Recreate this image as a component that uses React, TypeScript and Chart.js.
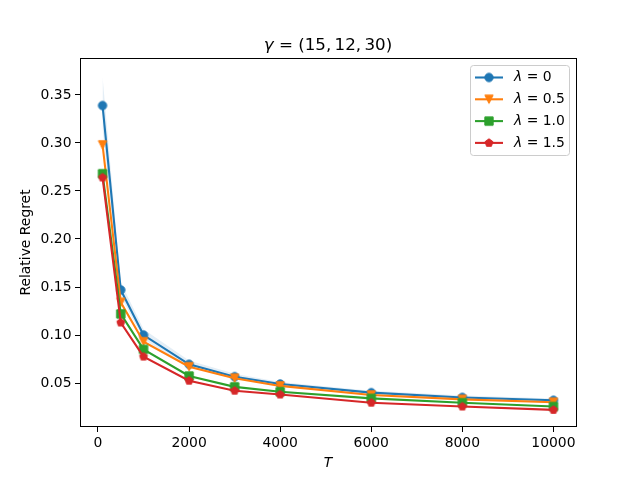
import { useEffect, useRef } from 'react';
import { Chart, registerables } from 'chart.js';

Chart.register(...registerables);

// values
const T = [100, 500, 1000, 2000, 3000, 4000, 6000, 8000, 10000];
const lambda0 = [0.339, 0.147, 0.100, 0.0695, 0.0566, 0.049, 0.040, 0.035, 0.032];
const lambda05 = [0.298, 0.134, 0.093, 0.067, 0.055, 0.047, 0.0375, 0.033, 0.030];
const lambda10 = [0.268, 0.122, 0.085, 0.0573, 0.046, 0.041, 0.034, 0.0295, 0.0255];
const lambda15 = [0.264, 0.113, 0.0775, 0.0524, 0.042, 0.038, 0.0295, 0.0255, 0.022];
const lambda0Spread = [0.03, 0.008, 0.006, 0.004, 0.003, 0.002, 0.002, 0.002, 0.002];
const lambdaLabels = ['0', '0.5', '1.0', '1.5'];
const xTicks = [0, 2000, 4000, 6000, 8000, 10000];
const yTicks = [0.05, 0.1, 0.15, 0.2, 0.25, 0.3, 0.35];

const colors = ['#1f77b4', '#ff7f0e', '#2ca02c', '#d62728'];
const shapes = ['circle', 'tri', 'square', 'pent'];
const FONT = '"DejaVu Sans", sans-serif';

function makeMarker(shape: string, color: string) {
  const c = document.createElement('canvas');
  c.width = 12;
  c.height = 12;
  const g = c.getContext('2d')!;
  const r = 4.17;
  g.fillStyle = color;
  g.strokeStyle = color;
  g.lineWidth = 1;
  g.beginPath();
  if (shape === 'circle') {
    g.arc(6, 6, r, 0, Math.PI * 2);
  } else if (shape === 'tri') {
    g.moveTo(6, 6 + r);
    g.lineTo(6 - r, 6 - r);
    g.lineTo(6 + r, 6 - r);
    g.closePath();
  } else if (shape === 'square') {
    g.rect(6 - r, 6 - r, 2 * r, 2 * r);
  } else {
    for (let i = 0; i < 5; i++) {
      const a = -Math.PI / 2 + (i * 2 * Math.PI) / 5;
      const px = 6 + r * Math.cos(a);
      const py = 6 + r * Math.sin(a);
      if (i === 0) g.moveTo(px, py);
      else g.lineTo(px, py);
    }
    g.closePath();
  }
  g.fill();
  g.stroke();
  return c;
}

function drawMath(ctx, parts, x, y, size, align) {
  const fonts = parts.map(([, it]) => `${it ? 'italic ' : ''}${size}px ${FONT}`);
  let total = 0;
  const widths = parts.map(([t], i) => {
    ctx.font = fonts[i];
    const w = ctx.measureText(t).width;
    total += w;
    return w;
  });
  let cx = align === 'center' ? x - total / 2 : x;
  ctx.textAlign = 'left';
  parts.forEach(([t], i) => {
    ctx.font = fonts[i];
    ctx.fillText(t, cx, y);
    cx += widths[i];
  });
}

export default function App() {
  const canvasRef = useRef(null);

  useEffect(() => {
    if (!canvasRef.current) return;
    document.body.style.margin = '0';
    document.body.style.overflow = 'hidden';

    const markers = colors.map((c, i) => makeMarker(shapes[i], c));
    const series = [lambda0, lambda05, lambda10, lambda15];

    const lines = series.map((vals, i) => ({
      label: 'λ = ' + lambdaLabels[i],
      data: T.map((t, j) => ({ x: t, y: vals[j] })),
      borderColor: colors[i],
      backgroundColor: colors[i],
      borderWidth: 2.08,
      pointStyle: markers[i],
      pointRadius: 5,
      fill: false,
      order: 4 - i,
    }));

    const band = [
      {
        label: 'upper',
        data: T.map((t, j) => ({ x: t, y: lambda0[j] + lambda0Spread[j] })),
        borderWidth: 0,
        pointRadius: 0,
        backgroundColor: 'rgba(31,119,180,0.12)',
        fill: '+1',
        order: 10,
      },
      {
        label: 'lower',
        data: T.map((t, j) => ({ x: t, y: lambda0[j] - lambda0Spread[j] * 0.8 })),
        borderWidth: 0,
        pointRadius: 0,
        fill: false,
        order: 11,
      },
    ];

    const decor = {
      id: 'decor',
      afterDatasetsDraw(chart) {
        const { ctx, chartArea: a } = chart;
        ctx.save();
        ctx.strokeStyle = '#000';
        ctx.lineWidth = 1;
        ctx.strokeRect(a.left + 0.5, a.top + 0.5, a.right - a.left, a.bottom - a.top - 1);

        // legend
        ctx.beginPath();
        ctx.roundRect(470.5, 65.5, 99, 90, 3);
        ctx.fillStyle = 'rgba(255,255,255,0.8)';
        ctx.fill();
        ctx.strokeStyle = '#cccccc';
        ctx.stroke();
        const rowY = [77.5, 99.3, 121.1, 142.9];
        lambdaLabels.forEach((lab, i) => {
          const y = rowY[i];
          ctx.strokeStyle = colors[i];
          ctx.lineWidth = 2.08;
          ctx.beginPath();
          ctx.moveTo(475, y);
          ctx.lineTo(503, y);
          ctx.stroke();
          ctx.drawImage(markers[i], 489 - 6, y - 6);
          ctx.fillStyle = '#000';
          ctx.textBaseline = 'middle';
          drawMath(ctx, [['λ', true], [' = ' + lab, false]], 514, y, 13.9, 'left');
        });

        // title and axis labels
        ctx.fillStyle = '#000';
        ctx.textBaseline = 'alphabetic';
        const cx = (a.left + a.right) / 2;
        drawMath(ctx, [['γ', true], [' = (15,\u200912,\u200930)', false]], cx, 49.5, 16.7, 'center');
        drawMath(ctx, [['T', true]], cx, 466.5, 13.9, 'center');
        ctx.save();
        ctx.translate(26, (a.top + a.bottom) / 2);
        ctx.rotate(-Math.PI / 2);
        ctx.textBaseline = 'middle';
        drawMath(ctx, [['Relative Regret', false]], 0, 0, 13.9, 'center');
        ctx.restore();
        ctx.restore();
      },
    };

    const tickFont = { family: FONT, size: 13.9 };

    const chart = new Chart(canvasRef.current, {
      type: 'line',
      data: { datasets: [...lines, ...band] },
      options: {
        responsive: false,
        animation: false,
        events: [],
        layout: { padding: { top: 58, right: 64, left: 0, bottom: 0 } },
        plugins: {
          legend: { display: false },
          title: { display: false },
          tooltip: { enabled: false },
        },
        scales: {
          x: {
            type: 'linear',
            min: -395,
            max: 10495,
            afterFit: (s) => { s.height = 53; },
            afterBuildTicks: (s) => { s.ticks = xTicks.map((v) => ({ value: v })); },
            grid: { drawOnChartArea: false, tickLength: 5, tickColor: '#000' },
            border: { display: false },
            ticks: {
              color: '#000',
              font: tickFont,
              padding: 3,
              maxRotation: 0,
              autoSkip: false,
              callback: (v) => String(v),
            },
          },
          y: {
            type: 'linear',
            min: 0.0042,
            max: 0.3885,
            afterFit: (s) => { s.width = 80; },
            afterBuildTicks: (s) => { s.ticks = yTicks.map((v) => ({ value: v })); },
            grid: { drawOnChartArea: false, tickLength: 5, tickColor: '#000' },
            border: { display: false },
            ticks: {
              color: '#000',
              font: tickFont,
              padding: 3.5,
              autoSkip: false,
              callback: (v) => Number(v).toFixed(2),
            },
          },
        },
      },
      plugins: [decor],
    });

    return () => chart.destroy();
  }, []);

  return <canvas ref={canvasRef} width={640} height={480} style={{ display: 'block' }} />;
}
